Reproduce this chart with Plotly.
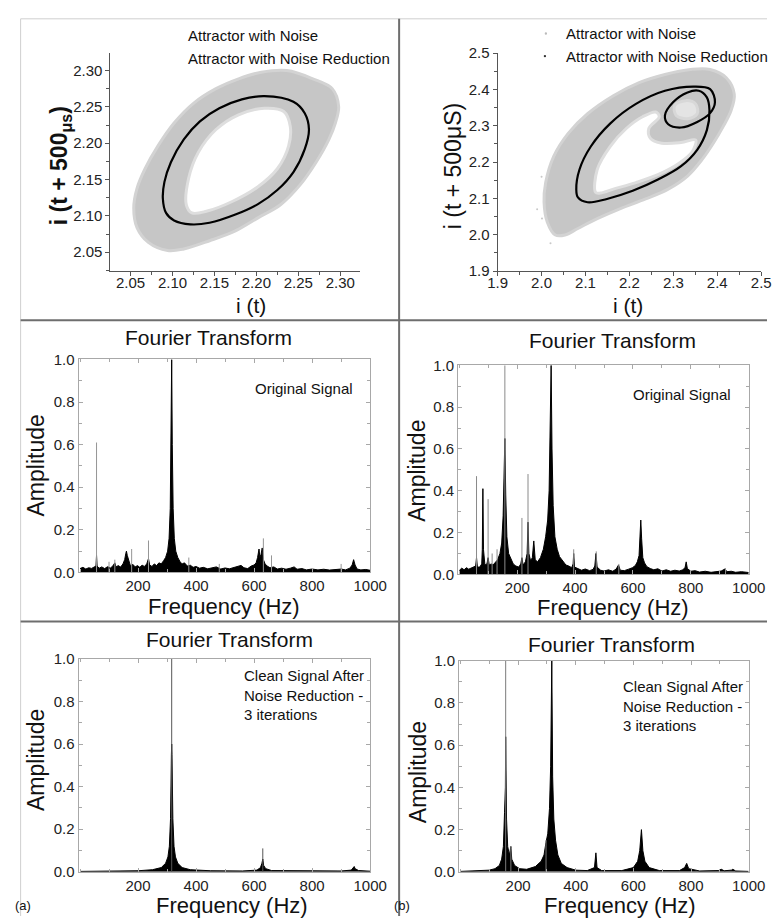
import plotly.graph_objects as go

W, H = 784, 924
FONT = "Arial, 'Liberation Sans', sans-serif"

# ---------------- phase-space attractor, panel (a) ----------------
a_cloud_outer = [(2.0538, 2.1108), (2.0577, 2.1378), (2.0673, 2.1649), (2.0827, 2.1964),
                 (2.1019, 2.2279), (2.1250, 2.2550), (2.1519, 2.2752), (2.1788, 2.2887),
                 (2.2058, 2.2977), (2.2365, 2.3000), (2.2673, 2.2887), (2.2904, 2.2752),
                 (2.2981, 2.2505), (2.2942, 2.2279), (2.2865, 2.2054), (2.2712, 2.1739),
                 (2.2519, 2.1423), (2.2288, 2.1153), (2.2019, 2.0973), (2.1750, 2.0793),
                 (2.1442, 2.0658), (2.1135, 2.0545), (2.0942, 2.0523), (2.0712, 2.0635),
                 (2.0577, 2.0838)]
a_cloud_inner = [(2.1165, 2.1153), (2.1192, 2.1514), (2.1308, 2.1874), (2.1519, 2.2189),
                 (2.1788, 2.2392), (2.2096, 2.2482), (2.2327, 2.2437), (2.2404, 2.2234),
                 (2.2385, 2.1964), (2.2250, 2.1649), (2.2019, 2.1401), (2.1712, 2.1198),
                 (2.1404, 2.1063), (2.1231, 2.1041)]
a_clean = [(2.2096, 2.2649), (2.2442, 2.2572), (2.2577, 2.2414), (2.2627, 2.2189),
           (2.2577, 2.1919), (2.2442, 2.1604), (2.2250, 2.1356), (2.2019, 2.1162),
           (2.1750, 2.1018), (2.1442, 2.0905), (2.1212, 2.0883), (2.1019, 2.0937),
           (2.0923, 2.1041), (2.0885, 2.1243), (2.0904, 2.1468), (2.0981, 2.1739),
           (2.1135, 2.2054), (2.1327, 2.2302), (2.1558, 2.2482), (2.1827, 2.2604)]

# ---------------- phase-space attractor, panel (b) ----------------
b_cloud_outer = [(2.0057, 2.0895), (2.0094, 2.1437), (2.0277, 2.2159), (2.0607, 2.2791),
                 (2.1048, 2.3332), (2.1635, 2.3828), (2.2222, 2.4190), (2.2809, 2.4415),
                 (2.3396, 2.4551), (2.3837, 2.4551), (2.4204, 2.4325), (2.4387, 2.3874),
                 (2.4314, 2.3422), (2.4130, 2.2971), (2.3910, 2.2520), (2.3653, 2.2069),
                 (2.3323, 2.1617), (2.2883, 2.1256), (2.2369, 2.0986), (2.1782, 2.0715),
                 (2.1268, 2.0444), (2.0828, 2.0173), (2.0534, 1.9993), (2.0314, 1.9993),
                 (2.0130, 2.0354)]
b_cloud_inner = [(2.1231, 2.1166), (2.1268, 2.1798), (2.1561, 2.2430), (2.1928, 2.2926),
                 (2.2300, 2.3250), (2.2600, 2.3380), (2.2680, 2.3250),
                 (2.2442, 2.2926), (2.2479, 2.2655), (2.2736, 2.2520), (2.3176, 2.2538),
                 (2.3507, 2.2610), (2.3433, 2.2294), (2.3139, 2.1978), (2.2662, 2.1662),
                 (2.2149, 2.1437), (2.1635, 2.1256), (2.1341, 2.1148)]
b_cloud_spot = [(2.3029, 2.3558), (2.3286, 2.3693), (2.3507, 2.3603), (2.3543, 2.3332),
                (2.3323, 2.3197), (2.3066, 2.3287)]
b_cloud_stray = [(2.0204, 1.9767), (1.9900, 2.0700), (2.0010, 2.0450), (2.0000, 2.1600)]
b_clean = [(2.0791, 2.1256), (2.0864, 2.1798), (2.1121, 2.2430), (2.1561, 2.3061),
           (2.2149, 2.3603), (2.2809, 2.3964), (2.3470, 2.4081), (2.3837, 2.4009),
           (2.3947, 2.3648), (2.3837, 2.3350), (2.3543, 2.3106), (2.3176, 2.2953),
           (2.2883, 2.3043), (2.2809, 2.3287), (2.2993, 2.3648), (2.3323, 2.3919),
           (2.3580, 2.3964), (2.3763, 2.3783), (2.3822, 2.3422), (2.3763, 2.2881),
           (2.3543, 2.2339), (2.3176, 2.1888), (2.2662, 2.1527), (2.2075, 2.1211),
           (2.1488, 2.0986), (2.1048, 2.0895), (2.0828, 2.1031)]

# ---------------- Fourier spectra: (frequency Hz, amplitude) ----------------
a_orig_env = [(0, 0.018), (10, 0.024), (20, 0.016), (30, 0.022), (40, 0.019), (48, 0.026),
              (55, 0.03), (57, 0.08), (59, 0.03), (66, 0.02), (75, 0.026), (85, 0.018),
              (95, 0.027), (105, 0.021), (113, 0.03), (120, 0.045), (124, 0.026), (132, 0.032),
              (140, 0.025), (148, 0.04), (154, 0.06), (158, 0.09), (160, 0.10), (163, 0.08),
              (168, 0.05), (174, 0.03), (182, 0.038), (190, 0.026), (198, 0.032), (206, 0.024),
              (214, 0.034), (222, 0.028), (230, 0.04), (236, 0.065), (240, 0.035), (248, 0.028),
              (256, 0.04), (264, 0.032), (272, 0.045), (280, 0.04), (288, 0.055), (295, 0.07),
              (302, 0.10), (307, 0.16), (311, 0.3), (314, 0.6), (316, 1.0), (318, 0.6),
              (321, 0.3), (325, 0.16), (330, 0.1), (337, 0.07), (345, 0.05), (352, 0.04),
              (360, 0.045), (370, 0.03), (380, 0.034), (390, 0.024), (400, 0.028), (412, 0.02),
              (425, 0.024), (440, 0.017), (455, 0.022), (470, 0.026), (485, 0.016), (500, 0.021),
              (515, 0.017), (530, 0.024), (545, 0.03), (555, 0.033), (565, 0.022), (578, 0.018),
              (590, 0.03), (600, 0.035), (607, 0.045), (612, 0.07), (617, 0.11), (620, 0.07),
              (624, 0.085), (628, 0.115), (632, 0.06), (638, 0.04), (645, 0.03), (655, 0.022),
              (668, 0.026), (680, 0.016), (695, 0.02), (710, 0.015), (725, 0.02), (738, 0.026),
              (748, 0.015), (765, 0.018), (780, 0.012), (800, 0.016), (820, 0.012), (840, 0.015),
              (860, 0.011), (880, 0.014), (900, 0.016), (915, 0.012), (930, 0.02), (938, 0.035),
              (943, 0.06), (948, 0.035), (955, 0.016), (968, 0.012), (985, 0.014), (1000, 0.01)]
a_orig_lines = [(57, 0.61), (100, 0.05), (120, 0.06), (178, 0.11), (236, 0.15),
                (375, 0.07), (480, 0.04), (632, 0.16), (660, 0.08), (900, 0.04)]

b_orig_env = [(0, 0.02), (8, 0.03), (16, 0.022), (24, 0.032), (32, 0.025), (40, 0.03),
              (50, 0.034), (56, 0.04), (59, 0.08), (62, 0.035), (70, 0.035), (77, 0.05),
              (79, 0.12), (81, 0.41), (83, 0.12), (88, 0.045), (95, 0.05), (99, 0.08),
              (103, 0.045), (110, 0.05), (116, 0.045), (124, 0.06), (132, 0.07), (140, 0.1),
              (146, 0.15), (151, 0.28), (154, 0.42), (157, 0.65), (160, 0.38), (164, 0.18),
              (170, 0.1), (178, 0.07), (186, 0.05), (195, 0.04), (205, 0.035), (212, 0.05),
              (216, 0.08), (220, 0.045), (228, 0.06), (234, 0.1), (237, 0.25), (240, 0.1),
              (246, 0.065), (252, 0.08), (257, 0.16), (262, 0.07), (270, 0.06), (280, 0.08),
              (290, 0.12), (298, 0.18), (305, 0.26), (310, 0.4), (314, 0.7), (317, 1.0),
              (320, 0.6), (324, 0.33), (330, 0.18), (338, 0.12), (346, 0.085), (358, 0.06),
              (368, 0.045), (378, 0.04), (388, 0.032), (393, 0.05), (395, 0.1), (398, 0.035),
              (410, 0.028), (422, 0.02), (435, 0.026), (450, 0.018), (462, 0.024), (468, 0.04),
              (472, 0.1), (476, 0.035), (488, 0.02), (500, 0.016), (515, 0.022), (530, 0.015),
              (542, 0.026), (550, 0.045), (556, 0.02), (570, 0.018), (585, 0.025), (598, 0.032),
              (608, 0.042), (615, 0.06), (621, 0.09), (625, 0.17), (627, 0.26), (630, 0.17),
              (634, 0.08), (640, 0.055), (648, 0.037), (660, 0.028), (672, 0.022), (686, 0.027),
              (700, 0.016), (715, 0.022), (730, 0.015), (745, 0.02), (760, 0.016), (772, 0.022),
              (780, 0.032), (784, 0.06), (788, 0.028), (800, 0.015), (815, 0.018), (830, 0.011),
              (850, 0.015), (870, 0.01), (890, 0.014), (905, 0.016), (918, 0.026), (925, 0.013),
              (940, 0.015), (955, 0.01), (975, 0.013), (1000, 0.009)]
b_orig_lines = [(59, 0.47), (99, 0.36), (113, 0.1), (130, 0.12), (157, 1.0), (216, 0.27),
                (237, 0.48), (395, 0.12), (473, 0.11), (551, 0.05), (920, 0.03)]

a_clean_env = [(0, 0.002), (100, 0.003), (200, 0.005), (250, 0.01), (280, 0.02), (295, 0.04),
               (303, 0.07), (308, 0.12), (312, 0.25), (315, 0.55), (316, 0.6), (317, 0.55),
               (320, 0.25), (324, 0.12), (329, 0.07), (337, 0.04), (352, 0.02), (380, 0.01),
               (450, 0.005), (560, 0.004), (610, 0.008), (622, 0.02), (627, 0.04), (630, 0.06),
               (633, 0.03), (640, 0.015), (660, 0.006), (750, 0.004), (900, 0.004), (935, 0.008),
               (942, 0.02), (945, 0.025), (948, 0.015), (960, 0.006), (1000, 0.003)]
a_clean_lines = [(316, 1.0), (630, 0.11)]

b_clean_env = [(0, 0.002), (60, 0.004), (100, 0.008), (120, 0.015), (135, 0.03), (143, 0.06),
               (149, 0.12), (153, 0.28), (156, 0.4), (157, 0.64), (158, 0.4), (160, 0.25),
               (164, 0.12), (170, 0.08), (175, 0.12), (178, 0.06), (188, 0.03), (205, 0.015),
               (230, 0.012), (260, 0.025), (280, 0.05), (290, 0.08), (297, 0.14), (303, 0.18),
               (309, 0.3), (313, 0.5), (317, 1.0), (320, 0.45), (324, 0.25), (330, 0.15),
               (338, 0.08), (350, 0.04), (370, 0.02), (400, 0.008), (440, 0.006), (465, 0.02),
               (470, 0.09), (474, 0.02), (490, 0.006), (560, 0.006), (600, 0.02), (615, 0.05),
               (622, 0.1), (628, 0.2), (633, 0.1), (640, 0.05), (655, 0.02), (690, 0.006),
               (760, 0.006), (778, 0.02), (785, 0.04), (792, 0.015), (830, 0.004), (895, 0.006),
               (905, 0.012), (915, 0.005), (940, 0.008), (945, 0.012), (955, 0.004), (1000, 0.002)]
b_clean_lines = [(157, 1.0), (175, 0.12), (297, 0.15)]

freq_ticks = [200, 400, 600, 800, 1000]
amp_ticks = [0.0, 0.2, 0.4, 0.6, 0.8, 1.0]
a_phase_ticks = [2.05, 2.10, 2.15, 2.20, 2.25, 2.30]
b_phase_ticks = [1.9, 2.0, 2.1, 2.2, 2.3, 2.4, 2.5]


def xs(pts):
    return [p[0] for p in pts]


def ys(pts):
    return [p[1] for p in pts]


def closed(pts):
    return pts + pts[:1]


fig = go.Figure()


def add_cloud(pts, fill, edge, ax, ay, width=3):
    c = closed(pts)
    fig.add_trace(go.Scatter(x=xs(c), y=ys(c), mode="lines", fill="toself",
                             fillcolor=fill, line=dict(color=edge, width=width, shape="spline"),
                             xaxis=ax, yaxis=ay, hoverinfo="skip", showlegend=False))


def add_loop(pts, ax, ay):
    c = closed(pts)
    fig.add_trace(go.Scatter(x=xs(c), y=ys(c), mode="lines",
                             line=dict(color="black", width=2.2, shape="spline", smoothing=1.0),
                             xaxis=ax, yaxis=ay, hoverinfo="skip", showlegend=False))


# panel (a) attractor
add_cloud(a_cloud_outer, "#c6c6c6", "#d3d3d3", "x", "y")
add_cloud(a_cloud_inner, "#ffffff", "#dedede", "x", "y")
add_loop(a_clean, "x", "y")

# panel (b) attractor
add_cloud(b_cloud_outer, "#c6c6c6", "#d3d3d3", "x2", "y2")
add_cloud(b_cloud_inner, "#ffffff", "#dedede", "x2", "y2")
add_cloud(b_cloud_spot, "#e4e4e4", "#d8d8d8", "x2", "y2")
fig.add_trace(go.Scatter(x=xs(b_cloud_stray), y=ys(b_cloud_stray), mode="markers",
                         marker=dict(color="#c8c8c8", size=2), xaxis="x2", yaxis="y2",
                         hoverinfo="skip", showlegend=False))
add_loop(b_clean, "x2", "y2")


def add_spectrum(env, lines, ax, ay, line_color):
    fig.add_trace(go.Scatter(x=xs(env), y=ys(env), mode="lines", fill="tozeroy",
                             fillcolor="black", line=dict(color="black", width=1),
                             xaxis=ax, yaxis=ay, hoverinfo="skip", showlegend=False))
    lx, ly = [], []
    for f, a in lines:
        lx += [f, f, None]
        ly += [0, a, None]
    fig.add_trace(go.Scatter(x=lx, y=ly, mode="lines",
                             line=dict(color=line_color, width=1),
                             xaxis=ax, yaxis=ay, hoverinfo="skip", showlegend=False))


add_spectrum(a_orig_env, a_orig_lines, "x3", "y3", "#959595")
add_spectrum(b_orig_env, b_orig_lines, "x4", "y4", "#8a8a8a")
add_spectrum(a_clean_env, a_clean_lines, "x5", "y5", "#555555")
add_spectrum(b_clean_env, b_clean_lines, "x6", "y6", "#7a7a7a")


def dom_x(x0, x1):
    return [x0 / W, x1 / W]


def dom_y(top, bottom):
    return [1 - bottom / H, 1 - top / H]


tickfont = dict(family=FONT, size=15, color="#222")

phase_common = dict(showline=True, linecolor="#555", linewidth=1, ticks="outside",
                    ticklen=4, tickcolor="#555", showgrid=False, zeroline=False,
                    tickfont=tickfont, mirror=False)
spec_common = dict(showline=True, linecolor="#a8a8a8", linewidth=1, mirror="ticks",
                   ticks="inside", ticklen=4, tickcolor="#a8a8a8", showgrid=False,
                   zeroline=False, tickfont=tickfont)

layout_axes = {}
layout_axes["xaxis"] = dict(domain=dom_x(104, 362), range=[2.026, 2.323], anchor="y",
                            tickvals=a_phase_ticks, tickformat=".2f", ticklabelstandoff=-6,
                            minor=dict(dtick=0.025, ticks="outside", ticklen=3, tickcolor="#555"),
                            **phase_common)
layout_axes["yaxis"] = dict(domain=dom_y(45, 267), range=[2.024, 2.324], anchor="x",
                            tickvals=a_phase_ticks, tickformat=".2f",
                            minor=dict(dtick=0.025, ticks="outside", ticklen=3, tickcolor="#555"),
                            **phase_common)
layout_axes["xaxis2"] = dict(domain=dom_x(505, 778), range=[1.9, 2.5], anchor="y2",
                             tickvals=b_phase_ticks, tickformat=".1f", ticklabelstandoff=-6,
                             minor=dict(dtick=0.05, ticks="outside", ticklen=3, tickcolor="#555"),
                             **phase_common)
layout_axes["yaxis2"] = dict(domain=dom_y(45, 267), range=[1.9, 2.5], anchor="x2",
                             tickvals=b_phase_ticks, tickformat=".1f",
                             minor=dict(dtick=0.05, ticks="outside", ticklen=3, tickcolor="#555"),
                             **phase_common)

spec_boxes = {3: (71, 373, 357, 574), 4: (464, 765, 363, 576),
              5: (71, 373, 662, 879), 6: (465, 765, 664, 879)}
for n, (x0, x1, top, bot) in spec_boxes.items():
    layout_axes[f"xaxis{n}"] = dict(domain=dom_x(x0, x1), range=[-5, 1000], anchor=f"y{n}",
                                    tickvals=freq_ticks,
                                    minor=dict(dtick=100, ticks="inside", ticklen=3,
                                               tickcolor="#a8a8a8"),
                                    **spec_common)
    layout_axes[f"yaxis{n}"] = dict(domain=dom_y(top, bot), range=[0, 1.0], anchor=f"x{n}",
                                    tickvals=amp_ticks, tickformat=".1f",
                                    minor=dict(dtick=0.1, ticks="inside", ticklen=3,
                                               tickcolor="#a8a8a8"),
                                    **spec_common)


def note(text, x, y, size, xanchor="center", angle=0, color="#111"):
    return dict(text=text, x=x / W, y=1 - y / H, xref="paper", yref="paper",
                showarrow=False, xanchor=xanchor, yanchor="middle", textangle=angle,
                align="left" if xanchor == "left" else "center",
                font=dict(family=FONT, size=size, color=color))


annotations = [
    # attractor panels
    note("Attractor with Noise", 182, 27, 15, "left"),
    note("Attractor with Noise Reduction", 182, 50, 15, "left"),
    note("Attractor with Noise", 574, 25, 15, "left"),
    note("Attractor with Noise Reduction", 574, 48, 15, "left"),
    note("<b>i (t + 500<sub>μs</sub>)</b>", 52, 160, 23, angle=-90),
    note("i (t + 500μS)", 459, 160, 23, angle=-90),
    note("i (t)", 250, 302, 21),
    note("i (t)", 640, 302, 21),
    # spectra titles
    note("Fourier Transform", 206, 335, 21),
    note("Fourier Transform", 624, 338, 21),
    note("Fourier Transform", 227, 642, 21),
    note("Fourier Transform", 623, 647, 21),
    note("Amplitude", 27, 465, 23, angle=-90),
    note("Amplitude", 422, 470, 23, angle=-90),
    note("Amplitude", 27, 765, 23, angle=-90),
    note("Amplitude", 422, 777, 23, angle=-90),
    note("Frequency (Hz)", 222, 609, 22),
    note("Frequency (Hz)", 624, 610, 22),
    note("Frequency (Hz)", 230, 913, 22),
    note("Frequency (Hz)", 632, 913, 22),
    note("Original Signal", 304, 387, 15),
    note("Original Signal", 696, 393, 15),
    note("Clean Signal After<br>Noise Reduction -<br>3 iterations", 240, 699, 15, "left"),
    note("Clean Signal After<br>Noise Reduction -<br>3 iterations", 633, 710, 15, "left"),
    note("(a)", 3, 913, 13, "left"),
    note("(b)", 396, 913, 13, "left"),
]


def seg(x0, y0, x1, y1, color, width):
    return dict(type="line", xref="paper", yref="paper",
                x0=x0 / W, y0=1 - y0 / H, x1=x1 / W, y1=1 - y1 / H,
                line=dict(color=color, width=width))


def dot(x, y, r, color):
    return dict(type="circle", xref="paper", yref="paper",
                x0=(x - r) / W, x1=(x + r) / W, y0=1 - (y + r) / H, y1=1 - (y - r) / H,
                fillcolor=color, line=dict(width=0))


shapes = [
    seg(11, 10, 784, 10, "#cfcfcf", 1),
    seg(11, 10, 11, 924, "#cfcfcf", 1),
    seg(403, 10, 403, 924, "#6e6e6e", 2),
    seg(11, 317, 784, 317, "#6e6e6e", 2),
    seg(11, 624, 784, 624, "#6e6e6e", 2),
    dot(555, 25, 1.2, "#bbbbbb"),
    dot(554, 48, 1.2, "#333333"),
]

fig.update_layout(width=W, height=H, margin=dict(l=0, r=0, t=0, b=0),
                  paper_bgcolor="white", plot_bgcolor="white",
                  showlegend=False, annotations=annotations, shapes=shapes,
                  font=dict(family=FONT), **layout_axes)

fig.write_html("out.html", config={"displayModeBar": False})
